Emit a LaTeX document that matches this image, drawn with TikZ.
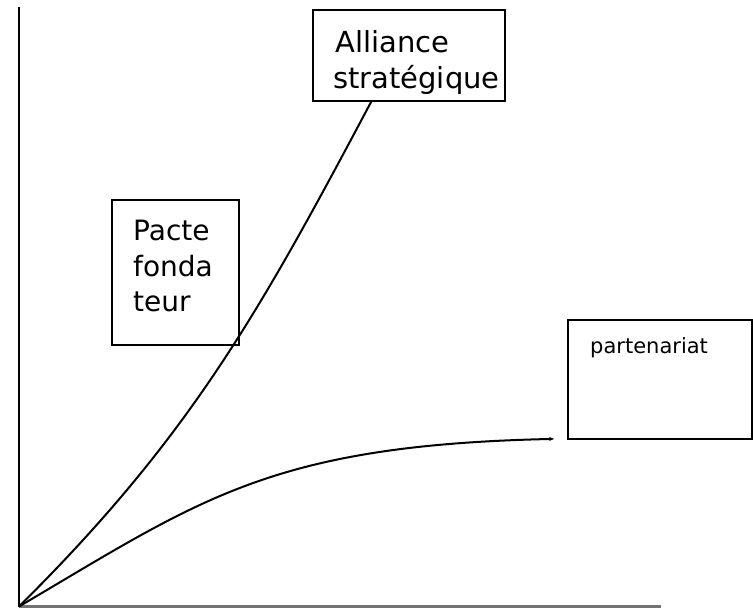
\documentclass[tikz,border=0pt]{standalone}
\usepackage{fontspec}
\setmainfont{DejaVu Sans}
\usetikzlibrary{arrows.meta}
\begin{document}
\begin{tikzpicture}[x=1pt,y=-1pt,
  frame/.style={draw=black, line width=1.8pt, rectangle, inner sep=0pt},
  curve/.style={draw=black, line width=2pt},
  axisline/.style={line width=2.2pt},
  bigtext/.style={anchor=base west, inner sep=0pt, font=\fontsize{29}{35}\selectfont},
  midtext/.style={anchor=base west, inner sep=0pt, font=\fontsize{28}{35}\selectfont},
  smalltext/.style={anchor=base west, inner sep=0pt, font=\fontsize{21}{25}\selectfont}]
\useasboundingbox (0,0) rectangle (753,608);

% axes
\coordinate (origin) at (19,606.5);
\coordinate (ytop) at (19,7);
\coordinate (xend) at (661,606.5);
\draw[axisline, black] (origin) -- (ytop);
\draw[axisline, black!55] (origin) -- (xend);

% boxes
\node[frame, minimum width=192pt, minimum height=91pt] (alliance) at (409,55.5) {};
\node[frame, minimum width=127pt, minimum height=145pt] (pacte) at (175.5,272.5) {};
\node[frame, minimum width=184pt, minimum height=119pt] (partner) at (660,379.5) {};

% labels
\node[bigtext] (al1) at (335,52) {Alliance};
\node[bigtext] (al2) at (333,88) {stratégique};
\node[midtext] (pa1) at (133,240) {Pacte};
\node[midtext] (pa2) at (133,276) {fonda};
\node[midtext] (pa3) at (133,311) {teur};
\node[smalltext] (pt1) at (590,353) {partenariat};

% growth curves
\path (alliance.south west) ++(59,0) coordinate (aEnd);
\path (partner.south west) ++(-13,-1) coordinate (pEnd);
\draw[curve] (origin) .. controls (190,437) and (259,313) .. (aEnd);
\draw[curve, -{Stealth[length=5pt,width=4pt]}] (origin)
  .. controls (200,500) and (270,445) .. (pEnd);
\end{tikzpicture}
\end{document}
